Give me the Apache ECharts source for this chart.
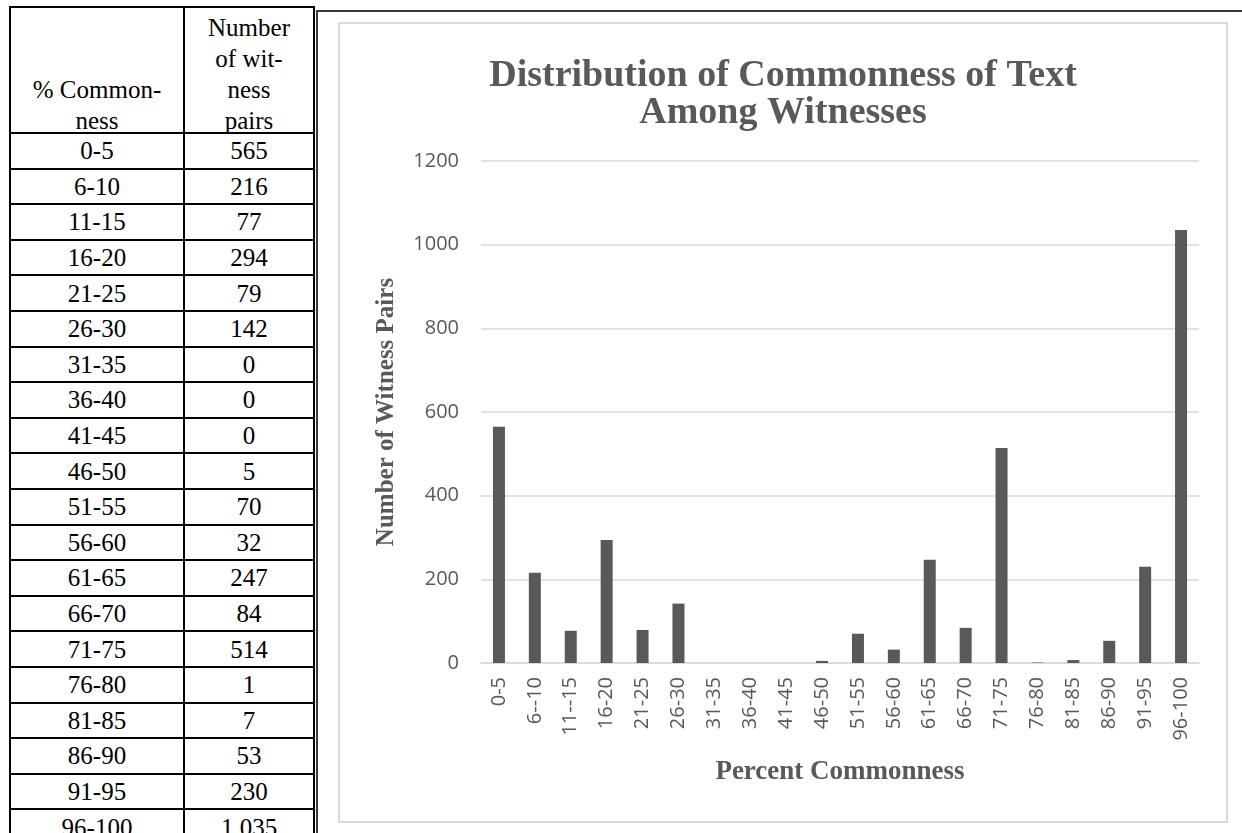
<!DOCTYPE html>
<html>
<head>
<meta charset="utf-8">
<script src="https://cdn.jsdelivr.net/npm/echarts@6/dist/echarts.min.js"></script>
<style>
  html, body { margin: 0; padding: 0; background: #fff; width: 1242px; height: 833px; overflow: hidden; }
  #tbl {
    position: absolute; left: 9px; top: 6px; width: 304px;
    border-collapse: collapse; table-layout: fixed;
    font-family: "Liberation Serif", "Times New Roman", serif; font-size: 25px; color: #000;
  }
  #tbl td { border: 2px solid #000; text-align: center; padding: 0; line-height: 31px; }
  #tbl tr.head td { height: 118px; vertical-align: bottom; }
  #tbl tr.head td div { position: relative; top: 4px; }
  #tbl tr.row td { height: 33.6px; line-height: 33px; }
  #frame {
    position: absolute; left: 316px; top: 10px; right: 0; bottom: 0;
    border-left: 2px solid #3a3a3a; border-top: 2px solid #3a3a3a;
  }
  #chart {
    position: absolute; left: 338px; top: 22px; width: 890px; height: 801px;
    box-sizing: border-box; border: 2px solid #d9d9d9; background: #fff;
  }
</style>
</head>
<body>
<table id="tbl">
  <colgroup><col style="width:174px"><col style="width:130px"></colgroup>
  <tbody id="tbody">
    <tr class="head"><td><div>% Common-<br>ness</div></td><td><div>Number<br>of wit-<br>ness<br>pairs</div></td></tr>
  </tbody>
</table>
<div id="frame"></div>
<div id="chart"></div>
<script>
// ranges as written in the table
const rangeLabels = ['0-5', '6-10', '11-15', '16-20', '21-25', '26-30', '31-35', '36-40', '41-45', '46-50',
  '51-55', '56-60', '61-65', '66-70', '71-75', '76-80', '81-85', '86-90', '91-95', '96-100'];
// ranges as written on the chart axis
const axisLabels = ['0-5', '6--10', '11--15', '16-20', '21-25', '26-30', '31-35', '36-40', '41-45', '46-50',
  '51-55', '56-60', '61-65', '66-70', '71-75', '76-80', '81-85', '86-90', '91-95', '96-100'];
const pairCounts = [565, 216, 77, 294, 79, 142, 0, 0, 0, 5, 70, 32, 247, 84, 514, 1, 7, 53, 230, 1035];

// table rows
let tbody = document.getElementById('tbody');
rangeLabels.forEach(function (r, i) {
    let tr = document.createElement('tr');
    tr.className = 'row';
    tr.innerHTML = '<td>' + r + '</td><td>' + pairCounts[i].toLocaleString('en-US') + '</td>';
    tbody.appendChild(tr);
});

let myChart = echarts.init(document.getElementById('chart'));
const grey = '#595959';
const serif = '"Liberation Serif", "Times New Roman", serif';
const sans = '"Open Sans", "Liberation Sans", sans-serif';

myChart.setOption({
    animation: false,
    title: {
        text: 'Distribution of Commonness of Text\nAmong Witnesses',
        left: 'center',
        top: 29,
        textStyle: {
            fontFamily: serif,
            fontWeight: 'bold',
            fontSize: 38,
            lineHeight: 37,
            color: grey
        }
    },
    grid: { left: 141, right: 27, top: 137, bottom: 158 },
    xAxis: {
        type: 'category',
        data: axisLabels,
        name: 'Percent Commonness',
        nameLocation: 'middle',
        nameGap: 96,
        nameTextStyle: { fontFamily: serif, fontWeight: 'bold', fontSize: 27, color: grey },
        axisLine: { lineStyle: { color: '#d9d9d9', width: 1.5 } },
        axisTick: { show: false },
        axisLabel: { rotate: 90, margin: 14, fontFamily: sans, fontSize: 20, color: grey, interval: 0 }
    },
    yAxis: {
        type: 'value',
        min: 0,
        max: 1200,
        interval: 200,
        name: 'Number of Witness Pairs',
        nameLocation: 'middle',
        nameGap: 82,
        nameTextStyle: { fontFamily: serif, fontWeight: 'bold', fontSize: 25, color: grey },
        axisLine: { show: false },
        axisTick: { show: false },
        axisLabel: { margin: 22, fontFamily: sans, fontSize: 20, color: grey, formatter: function (v) { return String(v); } },
        splitLine: { lineStyle: { color: '#d9d9d9', width: 1.5 } }
    },
    series: [
        {
            type: 'bar',
            data: pairCounts,
            barWidth: 12,
            itemStyle: { color: grey }
        }
    ]
});
</script>
</body>
</html>
